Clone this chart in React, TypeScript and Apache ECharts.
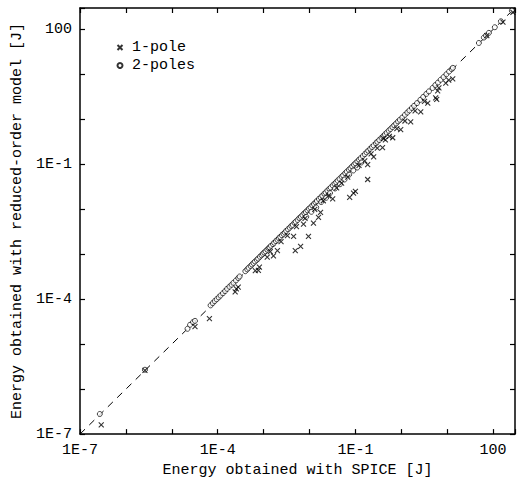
import React, { useEffect, useRef } from "react";
import * as echarts from "echarts";

const SERIES_NAMES = ["1-pole", "2-poles"];
const X_AXIS_NAME = "Energy obtained with SPICE [J]";
const Y_AXIS_NAME = "Energy obtained with reduced-order model [J]";
const AXIS_MIN = 1e-7;
const AXIS_MAX = 300;
const TICK_EXPONENTS = [-7, -4, -1, 2];
const TICK_LABELS = ["1E-7", "1E-4", "1E-1", "100"];
const DIAGONAL: [number, number][] = [
  [1e-7, 1e-7],
  [300, 300],
];

// 1-pole model: [energy SPICE, energy reduced-order]
const ONE_POLE: [number, number][] = [
  [2.9e-7, 1.6e-7], [2.6e-6, 2.6e-6], [3.2e-5, 2.45e-5], [6.6e-5, 3.7e-5],
  [2.4e-4, 1.45e-4], [2.55e-4, 1.7e-4], [2.8e-4, 1.85e-4], [6.6e-4, 4.3e-4],
  [8.1e-4, 5.2e-4], [7.7e-4, 4.4e-4], [1.2e-3, 8.6e-4], [1.64e-3, 9.2e-4],
  [2.0e-3, 1.2e-3], [4.9e-3, 1.2e-3], [6.4e-3, 1.5e-3], [9.5e-3, 2.5e-3],
  [1.22e-2, 4.9e-3], [1.57e-2, 6.6e-3], [7.4e-3, 4.7e-3], [4.5e-3, 2.5e-3],
  [1.74e-2, 8.5e-3], [3.2e-2, 1.7e-2], [7.5e-2, 1.85e-2], [9.1e-2, 2.3e-2],
  [0.1, 2.5e-2], [0.185, 4.6e-2], [0.185, 9.9e-2], [0.25, 0.147],
  [0.39, 0.235], [0.65, 0.39], [0.97, 0.59], [1.6, 0.88], [2.65, 1.46],
  [3.77, 2.3], [6.2, 4.3], [5.9, 2.8], [10.8, 7.5], [13.2, 8.0],
  [73, 73], [164, 146], [270, 240],
  [1.4e-3, 1.15e-3], [2.4e-3, 1.9e-3], [3.3e-3, 2.6e-3], [5.2e-3, 4.1e-3],
  [8.0e-3, 6.3e-3], [1.3e-2, 1.0e-2], [2.0e-2, 1.55e-2], [2.6e-2, 2.0e-2],
  [3.9e-2, 3.0e-2], [5.0e-2, 3.8e-2], [6.8e-2, 5.2e-2], [0.12, 0.095],
  [0.16, 0.12], [0.22, 0.17], [0.3, 0.23], [0.45, 0.35], [0.55, 0.42],
  [0.8, 0.62], [1.2, 0.92], [2.0, 1.55], [3.2, 2.5], [5.6, 3.0],
  [6.6, 5.0], [9.3, 6.4], [0.41, 0.38],
];

// 2-poles model: [energy SPICE, energy reduced-order]
const TWO_POLES: [number, number][] = [
  [2.7e-7, 2.8e-7], [2.6e-6, 2.7e-6], [2.2e-5, 2.2e-5], [2.5e-5, 2.7e-5],
  [2.9e-5, 3.1e-5], [3.2e-5, 3.3e-5], [7.0e-5, 7.3e-5], [7.8e-5, 8.2e-5],
  [8.6e-5, 9.1e-5], [9.5e-5, 1.0e-4], [1.05e-4, 1.1e-4], [1.15e-4, 1.21e-4],
  [1.3e-4, 1.36e-4], [1.45e-4, 1.52e-4], [1.6e-4, 1.7e-4], [1.8e-4, 1.9e-4],
  [2.0e-4, 2.1e-4], [2.2e-4, 2.32e-4], [2.5e-4, 2.62e-4], [2.8e-4, 2.95e-4],
  [3.0e-4, 3.2e-4], [4.0e-4, 4.2e-4], [4.4e-4, 4.6e-4], [4.7e-4, 5.0e-4],
  [5.2e-4, 5.5e-4], [5.6e-4, 5.9e-4], [6.0e-4, 6.4e-4], [6.5e-4, 6.9e-4],
  [7.1e-4, 7.5e-4], [7.6e-4, 8.0e-4], [8.3e-4, 8.8e-4], [9.0e-4, 9.5e-4],
  [9.6e-4, 1.02e-3], [1.03e-3, 1.09e-3], [1.1e-3, 1.17e-3], [1.2e-3, 1.26e-3],
  [1.28e-3, 1.36e-3], [1.35e-3, 1.43e-3], [1.45e-3, 1.54e-3], [1.6e-3, 1.68e-3],
  [1.7e-3, 1.8e-3], [1.85e-3, 1.96e-3], [2.0e-3, 2.1e-3], [2.15e-3, 2.28e-3],
  [2.3e-3, 2.42e-3], [2.5e-3, 2.65e-3], [2.7e-3, 2.84e-3], [2.9e-3, 3.05e-3],
  [3.1e-3, 3.3e-3], [3.4e-3, 3.6e-3], [3.7e-3, 3.9e-3], [4.0e-3, 4.25e-3],
  [4.3e-3, 4.5e-3], [4.7e-3, 5.0e-3], [5.0e-3, 5.3e-3], [5.5e-3, 5.8e-3],
  [6.0e-3, 6.4e-3], [6.5e-3, 6.8e-3], [7.0e-3, 7.4e-3], [7.7e-3, 8.2e-3],
  [8.3e-3, 8.7e-3], [9.0e-3, 9.5e-3], [9.7e-3, 1.03e-2], [1.05e-2, 1.1e-2],
  [1.15e-2, 1.22e-2], [1.25e-2, 1.31e-2], [1.35e-2, 1.43e-2], [1.45e-2, 1.53e-2],
  [1.6e-2, 1.7e-2], [1.75e-2, 1.84e-2], [1.9e-2, 2.0e-2], [2.1e-2, 2.22e-2],
  [2.25e-2, 2.36e-2], [2.45e-2, 2.6e-2], [2.7e-2, 2.85e-2], [2.9e-2, 3.05e-2],
  [3.2e-2, 3.4e-2], [3.5e-2, 3.7e-2], [3.8e-2, 4.0e-2], [4.1e-2, 4.35e-2],
  [4.5e-2, 4.75e-2], [5.0e-2, 5.3e-2], [5.4e-2, 5.7e-2], [6.0e-2, 6.35e-2],
  [6.5e-2, 6.9e-2], [7.2e-2, 7.6e-2], [7.8e-2, 8.2e-2], [8.5e-2, 9.0e-2],
  [9.3e-2, 9.8e-2], [0.1, 0.106], [0.11, 0.116], [0.12, 0.127],
  [0.13, 0.137], [0.145, 0.153], [0.16, 0.168], [0.175, 0.185],
  [0.19, 0.2], [0.21, 0.222], [0.23, 0.243], [0.25, 0.264],
  [0.28, 0.295], [0.3, 0.317], [0.33, 0.348], [0.37, 0.39],
  [0.4, 0.42], [0.44, 0.465], [0.48, 0.505], [0.53, 0.56],
  [0.58, 0.61], [0.64, 0.675], [0.7, 0.74], [0.77, 0.81],
  [0.85, 0.9], [0.93, 0.98], [1.05, 1.1], [1.2, 1.26],
  [1.35, 1.42], [1.5, 1.58], [1.7, 1.79], [1.9, 2.0],
  [2.2, 2.3], [2.6, 2.72], [3.0, 3.15], [3.5, 3.68],
  [4.0, 4.2], [4.8, 5.0], [5.5, 5.8], [6.3, 6.6],
  [7.2, 7.6], [8.3, 8.7], [9.6, 10.1], [11, 11.6],
  [12.5, 13.1], [13.3, 14.0], [49, 50], [63, 66],
  [70, 73], [81, 84], [109, 112], [148, 152], [257, 262],
  [8.5e-3, 6.8e-3], [1.1e-2, 8.8e-3], [1.4e-2, 1.1e-2], [1.8e-2, 1.45e-2],
  [2.3e-2, 1.8e-2], [2.8e-2, 2.3e-2], [3.6e-2, 2.9e-2], [4.6e-2, 3.6e-2],
  [5.8e-2, 4.6e-2], [7.3e-2, 5.9e-2], [9.0e-2, 7.3e-2], [0.11, 0.085],
  [0.135, 0.11],
];

const FONT = "'Liberation Mono', 'Courier New', monospace";
const INK = "#000";

function tickFormatter(v: number): string {
  const e = Math.log10(v);
  const r = Math.round(e);
  if (Math.abs(e - r) > 0.01) return "";
  const i = TICK_EXPONENTS.indexOf(r);
  return i >= 0 ? TICK_LABELS[i] : "";
}

export default function App() {
  const ref = useRef<HTMLDivElement>(null);
  useEffect(() => {
    if (!ref.current) return;
    const chart = echarts.init(ref.current, null, { renderer: "svg" });
    const axisCommon = {
      type: "log" as const,
      logBase: 10,
      min: AXIS_MIN,
      max: AXIS_MAX,
      splitLine: { show: false },
      axisLine: { show: true, lineStyle: { color: INK, width: 1.5 } },
      axisTick: { show: true, inside: true, length: 5, lineStyle: { color: INK, width: 1.2 } },
    };
    chart.setOption({
      animation: false,
      backgroundColor: "#fff",
      grid: { left: 80, top: 8, width: 435, height: 428, containLabel: false },
      legend: {
        orient: "vertical",
        left: 110,
        top: 35,
        itemWidth: 14,
        itemHeight: 5,
        itemGap: 3,
        data: SERIES_NAMES,
        textStyle: { fontFamily: FONT, fontSize: 15, color: INK },
      },
      xAxis: [
        {
          ...axisCommon,
          position: "bottom",
          name: X_AXIS_NAME,
          nameLocation: "middle",
          nameGap: 27,
          nameTextStyle: { fontFamily: FONT, fontSize: 15, color: INK },
          axisLabel: { margin: 9, fontFamily: FONT, fontSize: 15, color: INK, formatter: tickFormatter },
        },
        {
          ...axisCommon,
          position: "top",
          axisLabel: { show: false },
        },
      ],
      yAxis: [
        {
          ...axisCommon,
          position: "left",
          name: Y_AXIS_NAME,
          nameLocation: "middle",
          nameGap: 49,
          nameTextStyle: { fontFamily: FONT, fontSize: 15, color: INK },
          axisLabel: { margin: 8, fontFamily: FONT, fontSize: 15, color: INK, formatter: tickFormatter },
        },
        {
          ...axisCommon,
          position: "right",
          axisLabel: { show: false },
        },
      ],
      series: [
        {
          type: "line",
          data: DIAGONAL,
          xAxisIndex: 0,
          yAxisIndex: 0,
          symbol: "none",
          silent: true,
          lineStyle: { color: INK, width: 1, type: [7, 6] },
          z: 1,
        },
        {
          name: SERIES_NAMES[0],
          type: "scatter",
          data: ONE_POLE,
          xAxisIndex: 0,
          yAxisIndex: 0,
          symbol: "path://M0,0L10,10M10,0L0,10",
          symbolSize: 5,
          itemStyle: { color: "none", borderColor: INK, borderWidth: 1.1 },
          z: 3,
        },
        {
          name: SERIES_NAMES[1],
          type: "scatter",
          data: TWO_POLES,
          xAxisIndex: 0,
          yAxisIndex: 0,
          symbol: "circle",
          symbolSize: 5,
          itemStyle: { color: "#fff", borderColor: INK, borderWidth: 0.9 },
          z: 2,
        },
      ],
    });
    return () => chart.dispose();
  }, []);
  return (
    <div
      ref={ref}
      style={{ position: "fixed", left: 0, top: 0, width: 521, height: 483 }}
    />
  );
}
